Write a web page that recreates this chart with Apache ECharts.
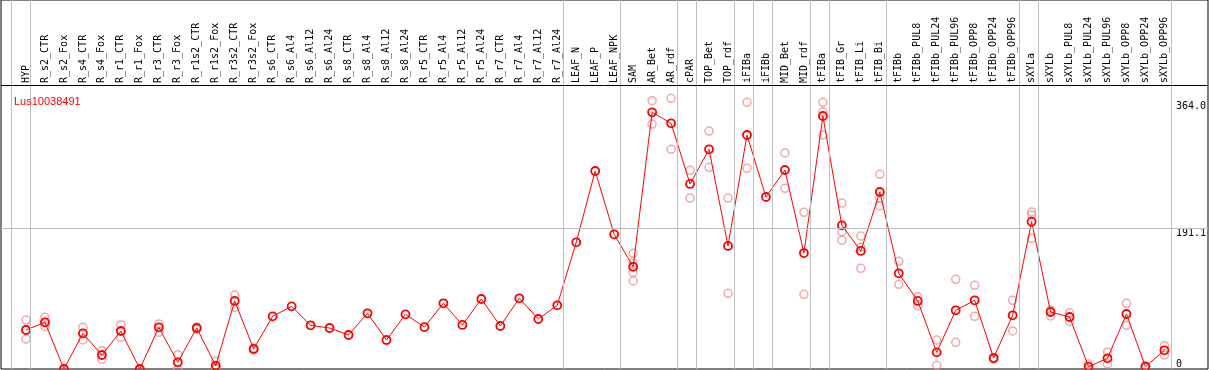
<!DOCTYPE html>
<html><head><meta charset="utf-8">
<script src="https://cdn.jsdelivr.net/npm/echarts@6/dist/echarts.min.js"></script>
<style>html,body{margin:0;padding:0;background:#fff}#c{width:1209px;height:370px}</style>
</head><body><div id="c"></div>
<script>
const geneName = 'Lus10038491';
const categories = ['HYP','R_s2_CTR','R_s2_Fox','R_s4_CTR','R_s4_Fox','R_r1_CTR','R_r1_Fox','R_r3_CTR','R_r3_Fox','R_r1s2_CTR','R_r1s2_Fox','R_r3s2_CTR','R_r3s2_Fox','R_s6_CTR','R_s6_Al4','R_s6_Al12','R_s6_Al24','R_s8_CTR','R_s8_Al4','R_s8_Al12','R_s8_Al24','R_r5_CTR','R_r5_Al4','R_r5_Al12','R_r5_Al24','R_r7_CTR','R_r7_Al4','R_r7_Al12','R_r7_Al24','LEAF_N','LEAF_P','LEAF_NPK','SAM','AR_Bet','AR_rdf','cPAR','TOP_Bet','TOP_rdf','iFIBa','iFIBb','MID_Bet','MID_rdf','tFIBa','tFIB_Gr','tFIB_Li','tFIB_Bi','tFIBb','tFIBb_PUL8','tFIBb_PUL24','tFIBb_PUL96','tFIBb_OPP8','tFIBb_OPP24','tFIBb_OPP96','sXYLa','sXYLb','sXYLb_PUL8','sXYLb_PUL24','sXYLb_PUL96','sXYLb_OPP8','sXYLb_OPP24','sXYLb_OPP96'];
const meanValues = [53.0,63.4,0,48.4,19.0,51.6,0,56.6,9.1,55.7,4.5,92.4,27.2,71.5,85.1,59.3,55.7,46.2,75.6,39.4,74.2,57.0,89.2,59.8,95.1,58.4,96.0,67.9,86.5,172.1,268.9,182.9,138.9,348.6,333.7,251.3,298.4,167.1,317.8,233.6,270.3,157.5,343.6,195.1,160.3,240.4,130.0,92.4,22.6,79.7,93.3,14.9,72.9,200.1,77.4,70.6,3.2,14.5,74.7,3.2,25.4];
const replicateValues = [
  [66.5,53.0,40.7],[70.2,63.0,57.5],[0],[56.6,39.4],[24.9,13.1],[59.8,43.0],[0],[61.1,49.8],[19.5,0],[57.0,54.0],
  [10.4,3.2,0],[100.5,83.8],[28.5,25.8],[],[],[],[],[],[],[],
  [],[],[],[],[],[],[],[],[],[],
  [],[],[157.1,143.5,131.3,119.5],[364.4,332.7],[367.6,298.4],[269.9,232.2],[323.2,273.9],[232.2,102.8],[362.2,272.6],[],
  [293.4,245.4],[212.8,101.4],[362.2,349.0,317.8],[225.4,186.5,174.8],[180.6,165.3,136.8],[264.4,231.8,221.8],[146.3,115.0],[98.2,86.0],[39.4,5.0],[121.8,36.2],
  [113.7,71.5],[15.5,13.5],[93.3,51.6],[213.2,209.2,177.5],[80.1,72.0],[76.5,64.2],[6.8,0],[22.6,6.8],[89.2,59.3],[4.5,2.0],
  [31.6,19.0]
];
const groupSeparatorsAfter = [-1,0,28,31,34,35,37,38,39,41,42,45,52,53,60];
const yTickValues = [0,191.1,364];
const yTickLabels = ['0','191.1','364.0'];
const gridLineValues = [191.1];

// layout
const PLOT_LEFT = 16.5, BAND = 19.01, N = categories.length;
const PLOT_TOP = 85, PLOT_BOTTOM = 369;
const PX_PER_UNIT = 0.7363;
const Y_MAX = (PLOT_BOTTOM - PLOT_TOP) / PX_PER_UNIT;
const FRAME_LEFT = 1, FRAME_RIGHT = 1208, FRAME_TOP = 0;
const firstCenter = PLOT_LEFT + BAND / 2;
const xMin0 = (FRAME_LEFT - firstCenter) / BAND;
const xMax0 = (FRAME_RIGHT - firstCenter) / BAND;
const Y0_MAX = Y_MAX * (PLOT_BOTTOM - FRAME_TOP) / (PLOT_BOTTOM - PLOT_TOP);
const SEP_OFFSET = 4.5 / BAND;

const repData = [];
replicateValues.forEach((arr, i) => arr.forEach(v => repData.push([i, v])));

function yLabel(v) {
  let best = 0;
  yTickValues.forEach((t, i) => { if (Math.abs(t - v) < Math.abs(yTickValues[best] - v)) best = i; });
  return yTickLabels[best];
}
const monoFont = 'DejaVu Sans Mono';

const chart = echarts.init(document.getElementById('c'), null, {renderer: 'canvas'});
chart.setOption({
  animation: false,
  backgroundColor: '#fff',
  title: {
    text: geneName, left: 9, top: 91,
    textStyle: {color: '#ff0000', fontSize: 11, fontWeight: 'normal', fontFamily: 'Liberation Sans'}
  },
  grid: [
    {left: FRAME_LEFT, top: FRAME_TOP, width: FRAME_RIGHT - FRAME_LEFT, height: PLOT_BOTTOM - FRAME_TOP,
     show: true, borderColor: '#000', borderWidth: 1, backgroundColor: 'transparent'},
    {left: PLOT_LEFT, top: PLOT_TOP, width: N * BAND, height: PLOT_BOTTOM - PLOT_TOP}
  ],
  xAxis: [
    {gridIndex: 0, type: 'value', min: xMin0, max: xMax0, show: false},
    {gridIndex: 1, type: 'category', data: categories, position: 'top',
     axisLine: {show: false}, axisTick: {show: false}, splitLine: {show: false},
     axisLabel: {interval: 0, rotate: 90, margin: 2, fontFamily: monoFont, fontSize: 10, color: '#000'}}
  ],
  yAxis: [
    {gridIndex: 0, type: 'value', min: 0, max: Y0_MAX, show: false},
    {gridIndex: 1, type: 'value', min: 0, max: Y_MAX, position: 'right',
     axisLine: {show: false}, axisTick: {show: false}, splitLine: {show: false},
     axisLabel: {customValues: [yTickValues[1], yTickValues[2]], formatter: yLabel, verticalAlign: 'top',
       margin: 2, fontFamily: monoFont, fontSize: 10, color: '#000'}},
    {gridIndex: 1, type: 'value', min: 0, max: Y_MAX, position: 'right',
     axisLine: {show: false}, axisTick: {show: false}, splitLine: {show: false},
     axisLabel: {customValues: [yTickValues[0]], formatter: yLabel, verticalAlign: 'bottom',
       margin: 2, fontFamily: monoFont, fontSize: 10, color: '#000'}}
  ],
  series: [
    {type: 'line', xAxisIndex: 0, yAxisIndex: 0, data: [], silent: true, z: 1,
     markLine: {silent: true, symbol: ['none', 'none'], animation: false, label: {show: false},
       lineStyle: {color: '#c0c0c0', width: 1, type: 'solid'},
       emphasis: {disabled: true},
       data: [
         ...groupSeparatorsAfter.map(k => ({xAxis: k + SEP_OFFSET})),
         ...gridLineValues.map(v => ({yAxis: v})),
         {yAxis: Y_MAX, lineStyle: {color: '#000', width: 1, type: 'solid'}}
       ]}},
    {type: 'scatter', xAxisIndex: 1, yAxisIndex: 1, data: repData, symbol: 'circle', symbolSize: 8, z: 3,
     itemStyle: {color: 'transparent', borderColor: '#ec9494', borderWidth: 1.5}},
    {type: 'line', xAxisIndex: 1, yAxisIndex: 1, data: meanValues, symbol: 'circle', symbolSize: 8,
     showAllSymbol: true, z: 4,
     lineStyle: {color: '#ff0000', width: 1},
     itemStyle: {color: 'transparent', borderColor: '#ff0000', borderWidth: 1.8}}
  ]
});
</script>
</body></html>
